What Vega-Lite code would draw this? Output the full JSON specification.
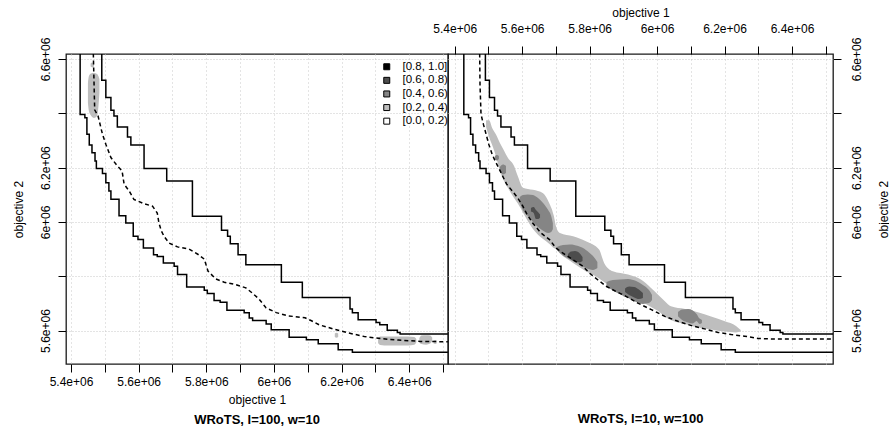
{
  "$schema": "https://vega.github.io/schema/vega-lite/v6.json",
  "padding": {"left": 11, "top": 5, "right": 0, "bottom": 0},
  "bounds": "flush",
  "datasets": {
    "best": [
      {"x": 5427000, "y": 6620000}, {"x": 5441000, "y": 6396000}, {"x": 5447000, "y": 6384000}, {"x": 5454000, "y": 6323000},
      {"x": 5462000, "y": 6283000}, {"x": 5471000, "y": 6255000}, {"x": 5475000, "y": 6224000}, {"x": 5493000, "y": 6197000},
      {"x": 5503000, "y": 6178000}, {"x": 5512000, "y": 6144000}, {"x": 5518000, "y": 6114000}, {"x": 5542000, "y": 6083000},
      {"x": 5562000, "y": 6023000}, {"x": 5584000, "y": 5996000}, {"x": 5598000, "y": 5947000}, {"x": 5614000, "y": 5935000},
      {"x": 5644000, "y": 5904000}, {"x": 5655000, "y": 5879000}, {"x": 5673000, "y": 5873000}, {"x": 5705000, "y": 5849000},
      {"x": 5715000, "y": 5837000}, {"x": 5742000, "y": 5806000}, {"x": 5794000, "y": 5760000}, {"x": 5803000, "y": 5748000},
      {"x": 5823000, "y": 5736000}, {"x": 5841000, "y": 5711000}, {"x": 5861000, "y": 5704000}, {"x": 5912000, "y": 5675000},
      {"x": 5927000, "y": 5665000}, {"x": 5937000, "y": 5646000}, {"x": 5977000, "y": 5637000}, {"x": 5992000, "y": 5624000},
      {"x": 6045000, "y": 5603000}, {"x": 6096000, "y": 5575000}, {"x": 6131000, "y": 5566000}, {"x": 6190000, "y": 5551000},
      {"x": 6232000, "y": 5529000}, {"x": 6600000, "y": 5520000}
    ],
    "worst": [
      {"x": 5491000, "y": 6620000}, {"x": 5503000, "y": 6522000}, {"x": 5518000, "y": 6458000}, {"x": 5527000, "y": 6411000},
      {"x": 5537000, "y": 6390000}, {"x": 5567000, "y": 6350000}, {"x": 5577000, "y": 6313000}, {"x": 5616000, "y": 6283000},
      {"x": 5683000, "y": 6197000}, {"x": 5759000, "y": 6151000}, {"x": 5845000, "y": 6021000}, {"x": 5863000, "y": 5969000},
      {"x": 5871000, "y": 5947000}, {"x": 5894000, "y": 5920000}, {"x": 5917000, "y": 5879000}, {"x": 6022000, "y": 5842000},
      {"x": 6084000, "y": 5778000}, {"x": 6225000, "y": 5722000}, {"x": 6232000, "y": 5679000}, {"x": 6249000, "y": 5665000},
      {"x": 6302000, "y": 5640000}, {"x": 6313000, "y": 5630000}, {"x": 6335000, "y": 5621000}, {"x": 6365000, "y": 5601000},
      {"x": 6373000, "y": 5593000}, {"x": 6600000, "y": 5587000}
    ],
    "medianL": [
      {"x": 5466000, "y": 6620000}, {"x": 5470000, "y": 6413000}, {"x": 5480000, "y": 6390000}, {"x": 5493000, "y": 6323000},
      {"x": 5503000, "y": 6286000}, {"x": 5518000, "y": 6237000}, {"x": 5537000, "y": 6206000}, {"x": 5551000, "y": 6188000},
      {"x": 5557000, "y": 6139000}, {"x": 5572000, "y": 6114000}, {"x": 5586000, "y": 6083000}, {"x": 5616000, "y": 6067000},
      {"x": 5641000, "y": 6058000}, {"x": 5655000, "y": 6033000}, {"x": 5660000, "y": 5996000}, {"x": 5667000, "y": 5967000},
      {"x": 5675000, "y": 5947000}, {"x": 5690000, "y": 5922000}, {"x": 5715000, "y": 5908000}, {"x": 5749000, "y": 5900000},
      {"x": 5776000, "y": 5880000}, {"x": 5794000, "y": 5863000}, {"x": 5805000, "y": 5819000}, {"x": 5828000, "y": 5790000},
      {"x": 5853000, "y": 5778000}, {"x": 5887000, "y": 5769000}, {"x": 5917000, "y": 5757000}, {"x": 5936000, "y": 5738000},
      {"x": 5956000, "y": 5716000}, {"x": 5977000, "y": 5683000}, {"x": 6007000, "y": 5666000}, {"x": 6042000, "y": 5654000},
      {"x": 6092000, "y": 5647000}, {"x": 6111000, "y": 5636000}, {"x": 6134000, "y": 5621000}, {"x": 6175000, "y": 5606000},
      {"x": 6220000, "y": 5591000}, {"x": 6267000, "y": 5578000}, {"x": 6317000, "y": 5570000}, {"x": 6368000, "y": 5565000},
      {"x": 6433000, "y": 5560000}, {"x": 6600000, "y": 5557000}
    ],
    "medianR": [
      {"x": 5474000, "y": 6620000}, {"x": 5475000, "y": 6507000}, {"x": 5478000, "y": 6396000}, {"x": 5485000, "y": 6360000},
      {"x": 5493000, "y": 6323000}, {"x": 5501000, "y": 6286000}, {"x": 5511000, "y": 6249000}, {"x": 5520000, "y": 6224000},
      {"x": 5530000, "y": 6200000}, {"x": 5542000, "y": 6169000}, {"x": 5554000, "y": 6139000}, {"x": 5572000, "y": 6112000},
      {"x": 5587000, "y": 6088000}, {"x": 5602000, "y": 6058000}, {"x": 5614000, "y": 6029000}, {"x": 5631000, "y": 5996000},
      {"x": 5656000, "y": 5959000}, {"x": 5681000, "y": 5935000}, {"x": 5700000, "y": 5904000}, {"x": 5720000, "y": 5886000},
      {"x": 5750000, "y": 5861000}, {"x": 5780000, "y": 5837000}, {"x": 5799000, "y": 5812000}, {"x": 5824000, "y": 5787000},
      {"x": 5849000, "y": 5763000}, {"x": 5878000, "y": 5744000}, {"x": 5908000, "y": 5726000}, {"x": 5943000, "y": 5701000},
      {"x": 5983000, "y": 5677000}, {"x": 6023000, "y": 5652000}, {"x": 6062000, "y": 5634000}, {"x": 6102000, "y": 5618000},
      {"x": 6141000, "y": 5606000}, {"x": 6181000, "y": 5593000}, {"x": 6220000, "y": 5585000}, {"x": 6260000, "y": 5579000},
      {"x": 6299000, "y": 5571000}, {"x": 6339000, "y": 5569000}, {"x": 6600000, "y": 5569000}
    ],
    "regionsL": [
      {"blob": "L1", "level": "[0.2, 0.4)", "x": 5450000, "y": 6512000, "y2": 6438000},
      {"blob": "L1", "level": "[0.2, 0.4)", "x": 5453000, "y": 6537000, "y2": 6408000},
      {"blob": "L1", "level": "[0.2, 0.4)", "x": 5459000, "y": 6547000, "y2": 6392000},
      {"blob": "L1", "level": "[0.2, 0.4)", "x": 5468000, "y": 6548000, "y2": 6383000},
      {"blob": "L1", "level": "[0.2, 0.4)", "x": 5477000, "y": 6545000, "y2": 6390000},
      {"blob": "L1", "level": "[0.2, 0.4)", "x": 5481000, "y": 6537000, "y2": 6423000},
      {"blob": "L1", "level": "[0.2, 0.4)", "x": 5484000, "y": 6526000, "y2": 6475000},
      {"blob": "L2", "level": "[0.2, 0.4)", "x": 5458000, "y": 6583000, "y2": 6572000},
      {"blob": "L2", "level": "[0.2, 0.4)", "x": 5463000, "y": 6587000, "y2": 6569000},
      {"blob": "L2", "level": "[0.2, 0.4)", "x": 5468000, "y": 6583000, "y2": 6572000},
      {"blob": "L3", "level": "[0.2, 0.4)", "x": 6180000, "y": 5589000, "y2": 5576000},
      {"blob": "L3", "level": "[0.2, 0.4)", "x": 6185000, "y": 5592000, "y2": 5573000},
      {"blob": "L3", "level": "[0.2, 0.4)", "x": 6190000, "y": 5589000, "y2": 5576000},
      {"blob": "L4", "level": "[0.2, 0.4)", "x": 6308000, "y": 5572000, "y2": 5554000},
      {"blob": "L4", "level": "[0.2, 0.4)", "x": 6314000, "y": 5578000, "y2": 5547000},
      {"blob": "L4", "level": "[0.2, 0.4)", "x": 6338000, "y": 5578000, "y2": 5545000},
      {"blob": "L4", "level": "[0.2, 0.4)", "x": 6367000, "y": 5578000, "y2": 5545000},
      {"blob": "L4", "level": "[0.2, 0.4)", "x": 6397000, "y": 5578000, "y2": 5545000},
      {"blob": "L4", "level": "[0.2, 0.4)", "x": 6415000, "y": 5576000, "y2": 5548000},
      {"blob": "L4", "level": "[0.2, 0.4)", "x": 6421000, "y": 5569000, "y2": 5556000},
      {"blob": "L5", "level": "[0.2, 0.4)", "x": 6430000, "y": 5572000, "y2": 5558000},
      {"blob": "L5", "level": "[0.2, 0.4)", "x": 6436000, "y": 5582000, "y2": 5550000},
      {"blob": "L5", "level": "[0.2, 0.4)", "x": 6450000, "y": 5583000, "y2": 5548000},
      {"blob": "L5", "level": "[0.2, 0.4)", "x": 6462000, "y": 5582000, "y2": 5552000},
      {"blob": "L5", "level": "[0.2, 0.4)", "x": 6468000, "y": 5574000, "y2": 5561000},
      {"blob": "L6", "level": "[0.2, 0.4)", "x": 6472000, "y": 5563000, "y2": 5552000},
      {"blob": "L6", "level": "[0.2, 0.4)", "x": 6477000, "y": 5565000, "y2": 5550000},
      {"blob": "L6", "level": "[0.2, 0.4)", "x": 6481000, "y": 5563000, "y2": 5552000}
    ],
    "regionsR": [
      {"blob": "R1", "level": "[0.2, 0.4)", "x": 5493000, "y": 6374000, "y2": 6350000},
      {"blob": "R1", "level": "[0.2, 0.4)", "x": 5502000, "y": 6374000, "y2": 6313000},
      {"blob": "R1", "level": "[0.2, 0.4)", "x": 5511000, "y": 6346000, "y2": 6283000},
      {"blob": "R1", "level": "[0.2, 0.4)", "x": 5522000, "y": 6323000, "y2": 6243000},
      {"blob": "R1", "level": "[0.2, 0.4)", "x": 5534000, "y": 6291000, "y2": 6188000},
      {"blob": "R1", "level": "[0.2, 0.4)", "x": 5546000, "y": 6263000, "y2": 6151000},
      {"blob": "R1", "level": "[0.2, 0.4)", "x": 5558000, "y": 6235000, "y2": 6125000},
      {"blob": "R1", "level": "[0.2, 0.4)", "x": 5576000, "y": 6206000, "y2": 6088000},
      {"blob": "R1", "level": "[0.2, 0.4)", "x": 5588000, "y": 6165000, "y2": 6066000},
      {"blob": "R1", "level": "[0.2, 0.4)", "x": 5602000, "y": 6126000, "y2": 6036000},
      {"blob": "R1", "level": "[0.2, 0.4)", "x": 5632000, "y": 6118000, "y2": 5974000},
      {"blob": "R1", "level": "[0.2, 0.4)", "x": 5662000, "y": 6106000, "y2": 5937000},
      {"blob": "R1", "level": "[0.2, 0.4)", "x": 5680000, "y": 6070000, "y2": 5920000},
      {"blob": "R1", "level": "[0.2, 0.4)", "x": 5694000, "y": 6022000, "y2": 5904000},
      {"blob": "R1", "level": "[0.2, 0.4)", "x": 5700000, "y": 5985000, "y2": 5900000},
      {"blob": "R1", "level": "[0.2, 0.4)", "x": 5712000, "y": 5959000, "y2": 5884000},
      {"blob": "R1", "level": "[0.2, 0.4)", "x": 5751000, "y": 5947000, "y2": 5849000},
      {"blob": "R1", "level": "[0.2, 0.4)", "x": 5789000, "y": 5929000, "y2": 5818000},
      {"blob": "R1", "level": "[0.2, 0.4)", "x": 5828000, "y": 5898000, "y2": 5792000},
      {"blob": "R1", "level": "[0.2, 0.4)", "x": 5843000, "y": 5849000, "y2": 5779000},
      {"blob": "R1", "level": "[0.2, 0.4)", "x": 5869000, "y": 5818000, "y2": 5758000},
      {"blob": "R1", "level": "[0.2, 0.4)", "x": 5914000, "y": 5806000, "y2": 5734000},
      {"blob": "R1", "level": "[0.2, 0.4)", "x": 5952000, "y": 5788000, "y2": 5709000},
      {"blob": "R1", "level": "[0.2, 0.4)", "x": 5982000, "y": 5757000, "y2": 5687000},
      {"blob": "R1", "level": "[0.2, 0.4)", "x": 6003000, "y": 5732000, "y2": 5672000},
      {"blob": "R1", "level": "[0.2, 0.4)", "x": 6023000, "y": 5708000, "y2": 5652000},
      {"blob": "R1", "level": "[0.2, 0.4)", "x": 6041000, "y": 5689000, "y2": 5639000},
      {"blob": "R1", "level": "[0.2, 0.4)", "x": 6083000, "y": 5679000, "y2": 5624000},
      {"blob": "R1", "level": "[0.2, 0.4)", "x": 6121000, "y": 5667000, "y2": 5611000},
      {"blob": "R1", "level": "[0.2, 0.4)", "x": 6160000, "y": 5652000, "y2": 5604000},
      {"blob": "R1", "level": "[0.2, 0.4)", "x": 6201000, "y": 5634000, "y2": 5596000},
      {"blob": "R1", "level": "[0.2, 0.4)", "x": 6234000, "y": 5617000, "y2": 5593000},
      {"blob": "R1", "level": "[0.2, 0.4)", "x": 6248000, "y": 5602000, "y2": 5596000},
      {"blob": "R2", "level": "[0.4, 0.6)", "x": 5519000, "y": 6243000, "y2": 6232000},
      {"blob": "R2", "level": "[0.4, 0.6)", "x": 5525000, "y": 6246000, "y2": 6226000},
      {"blob": "R2", "level": "[0.4, 0.6)", "x": 5531000, "y": 6243000, "y2": 6232000},
      {"blob": "R3", "level": "[0.4, 0.6)", "x": 5534000, "y": 6202000, "y2": 6188000},
      {"blob": "R3", "level": "[0.4, 0.6)", "x": 5543000, "y": 6211000, "y2": 6175000},
      {"blob": "R3", "level": "[0.4, 0.6)", "x": 5552000, "y": 6206000, "y2": 6180000},
      {"blob": "R4", "level": "[0.4, 0.6)", "x": 5593000, "y": 6092000, "y2": 6070000},
      {"blob": "R4", "level": "[0.4, 0.6)", "x": 5602000, "y": 6099000, "y2": 6044000},
      {"blob": "R4", "level": "[0.4, 0.6)", "x": 5617000, "y": 6101000, "y2": 6022000},
      {"blob": "R4", "level": "[0.4, 0.6)", "x": 5632000, "y": 6099000, "y2": 6000000},
      {"blob": "R4", "level": "[0.4, 0.6)", "x": 5647000, "y": 6088000, "y2": 5981000},
      {"blob": "R4", "level": "[0.4, 0.6)", "x": 5662000, "y": 6070000, "y2": 5967000},
      {"blob": "R4", "level": "[0.4, 0.6)", "x": 5677000, "y": 6044000, "y2": 5959000},
      {"blob": "R4", "level": "[0.4, 0.6)", "x": 5686000, "y": 6022000, "y2": 5963000},
      {"blob": "R4", "level": "[0.4, 0.6)", "x": 5691000, "y": 5996000, "y2": 5974000},
      {"blob": "R5", "level": "[0.4, 0.6)", "x": 5703000, "y": 5908000, "y2": 5897000},
      {"blob": "R5", "level": "[0.4, 0.6)", "x": 5721000, "y": 5915000, "y2": 5876000},
      {"blob": "R5", "level": "[0.4, 0.6)", "x": 5742000, "y": 5917000, "y2": 5862000},
      {"blob": "R5", "level": "[0.4, 0.6)", "x": 5766000, "y": 5911000, "y2": 5845000},
      {"blob": "R5", "level": "[0.4, 0.6)", "x": 5789000, "y": 5897000, "y2": 5830000},
      {"blob": "R5", "level": "[0.4, 0.6)", "x": 5810000, "y": 5874000, "y2": 5823000},
      {"blob": "R5", "level": "[0.4, 0.6)", "x": 5823000, "y": 5852000, "y2": 5830000},
      {"blob": "R6", "level": "[0.4, 0.6)", "x": 5850000, "y": 5779000, "y2": 5764000},
      {"blob": "R6", "level": "[0.4, 0.6)", "x": 5869000, "y": 5786000, "y2": 5747000},
      {"blob": "R6", "level": "[0.4, 0.6)", "x": 5890000, "y": 5788000, "y2": 5734000},
      {"blob": "R6", "level": "[0.4, 0.6)", "x": 5914000, "y": 5790000, "y2": 5720000},
      {"blob": "R6", "level": "[0.4, 0.6)", "x": 5938000, "y": 5782000, "y2": 5705000},
      {"blob": "R6", "level": "[0.4, 0.6)", "x": 5958000, "y": 5768000, "y2": 5698000},
      {"blob": "R6", "level": "[0.4, 0.6)", "x": 5976000, "y": 5749000, "y2": 5701000},
      {"blob": "R6", "level": "[0.4, 0.6)", "x": 5985000, "y": 5731000, "y2": 5712000},
      {"blob": "R7", "level": "[0.4, 0.6)", "x": 6062000, "y": 5668000, "y2": 5653000},
      {"blob": "R7", "level": "[0.4, 0.6)", "x": 6074000, "y": 5677000, "y2": 5639000},
      {"blob": "R7", "level": "[0.4, 0.6)", "x": 6092000, "y": 5679000, "y2": 5630000},
      {"blob": "R7", "level": "[0.4, 0.6)", "x": 6106000, "y": 5674000, "y2": 5626000},
      {"blob": "R7", "level": "[0.4, 0.6)", "x": 6117000, "y": 5661000, "y2": 5635000},
      {"blob": "R7", "level": "[0.4, 0.6)", "x": 6126000, "y": 5644000, "y2": 5624000},
      {"blob": "R7", "level": "[0.4, 0.6)", "x": 6133000, "y": 5639000, "y2": 5628000},
      {"blob": "R8", "level": "[0.6, 0.8)", "x": 5626000, "y": 6051000, "y2": 6038000},
      {"blob": "R8", "level": "[0.6, 0.8)", "x": 5634000, "y": 6055000, "y2": 6033000},
      {"blob": "R8", "level": "[0.6, 0.8)", "x": 5641000, "y": 6044000, "y2": 6011000},
      {"blob": "R8", "level": "[0.6, 0.8)", "x": 5648000, "y": 6035000, "y2": 6011000},
      {"blob": "R8", "level": "[0.6, 0.8)", "x": 5653000, "y": 6027000, "y2": 6016000},
      {"blob": "R9", "level": "[0.6, 0.8)", "x": 5736000, "y": 5882000, "y2": 5871000},
      {"blob": "R9", "level": "[0.6, 0.8)", "x": 5745000, "y": 5891000, "y2": 5862000},
      {"blob": "R9", "level": "[0.6, 0.8)", "x": 5757000, "y": 5893000, "y2": 5854000},
      {"blob": "R9", "level": "[0.6, 0.8)", "x": 5769000, "y": 5886000, "y2": 5851000},
      {"blob": "R9", "level": "[0.6, 0.8)", "x": 5779000, "y": 5871000, "y2": 5856000},
      {"blob": "R10", "level": "[0.6, 0.8)", "x": 5905000, "y": 5755000, "y2": 5742000},
      {"blob": "R10", "level": "[0.6, 0.8)", "x": 5917000, "y": 5762000, "y2": 5731000},
      {"blob": "R10", "level": "[0.6, 0.8)", "x": 5932000, "y": 5760000, "y2": 5722000},
      {"blob": "R10", "level": "[0.6, 0.8)", "x": 5946000, "y": 5751000, "y2": 5716000},
      {"blob": "R10", "level": "[0.6, 0.8)", "x": 5958000, "y": 5738000, "y2": 5720000}
    ]
  },
  "spacing": 0,
  "resolve": {"scale": {"fill": "independent"}, "legend": {"fill": "independent"}},
  "hconcat": [
    {
      "width": 382,
      "height": 310,
      "title": {"text": "WRoTS, l=100, w=10", "orient": "bottom", "offset": 9},
      "encoding": {
        "x": {"field": "x", "type": "quantitative",
          "scale": {"domain": [5385200, 6514700], "nice": false, "zero": false},
          "axis": {"orient": "bottom", "title": "objective 1",
            "values": [5400000, 5500000, 5600000, 5700000, 5800000, 5900000, 6000000, 6100000, 6200000, 6300000, 6400000, 6500000],
            "labelExpr": "round(datum.value / 100000) % 2 == 0 ? format(datum.value / 1000000, '.2~g') + 'e+06' : ''",
            "labelPadding": 4, "titlePadding": 7, "gridDash": [1, 3]}},
        "y": {"field": "y", "type": "quantitative",
          "scale": {"domain": [5476700, 6618400], "nice": false, "zero": false},
          "axis": {"orient": "left", "title": "objective 2",
            "values": [5600000, 5800000, 6000000, 6200000, 6400000, 6600000],
            "labelExpr": "(datum.value == 5800000 || datum.value == 6400000) ? '' : format(datum.value / 1000000, '.2~g') + 'e+06'",
            "labelAngle": -90, "labelAlign": "center", "labelBaseline": "bottom", "labelPadding": 6,
            "titleAngle": -90, "titlePadding": 14, "gridDash": [1, 2]}}
      },
      "layer": [
        {
          "data": {"name": "regionsL"},
          "mark": {"type": "area", "interpolate": "monotone", "clip": true},
          "encoding": {
            "y2": {"field": "y2"},
            "detail": {"field": "blob", "type": "nominal"},
            "fill": {"field": "level", "type": "nominal",
              "scale": {"domain": ["[0.8, 1.0]", "[0.6, 0.8)", "[0.4, 0.6)", "[0.2, 0.4)", "[0.0, 0.2)"],
                        "range": ["#000000", "#4d4d4d", "#858585", "#bebebe", "#ffffff"]},
              "legend": {"title": null, "orient": "none", "legendX": 315, "legendY": 7, "symbolType": "square",
                "symbolSize": 36, "symbolStrokeColor": "black", "symbolStrokeWidth": 1,
                "labelFontSize": 11.5, "labelColor": "black", "rowPadding": 0.6, "labelOffset": 10}}
          }
        },
        {"data": {"name": "best"}, "mark": {"type": "line", "interpolate": "step-before", "color": "#000000", "strokeWidth": 1.5, "clip": true}, "encoding": {}},
        {"data": {"name": "worst"}, "mark": {"type": "line", "interpolate": "step-before", "color": "#000000", "strokeWidth": 1.5, "clip": true}, "encoding": {}},
        {"data": {"name": "medianL"}, "mark": {"type": "line", "color": "#000000", "strokeWidth": 1.5, "strokeDash": [4, 3], "clip": true}, "encoding": {}}
      ]
    },
    {
      "width": 385,
      "height": 310,
      "title": {"text": "WRoTS, l=10, w=100", "orient": "bottom", "offset": 49},
      "encoding": {
        "x": {"field": "x", "type": "quantitative",
          "scale": {"domain": [5380100, 6521600], "nice": false, "zero": false},
          "axis": {"orient": "top", "title": "objective 1",
            "values": [5400000, 5500000, 5600000, 5700000, 5800000, 5900000, 6000000, 6100000, 6200000, 6300000, 6400000, 6500000],
            "labelExpr": "round(datum.value / 100000) % 2 == 0 ? format(datum.value / 1000000, '.2~g') + 'e+06' : ''",
            "labelPadding": 11, "titlePadding": 3, "gridDash": [1, 3]}},
        "y": {"field": "y", "type": "quantitative",
          "scale": {"domain": [5476700, 6618400], "nice": false, "zero": false},
          "axis": {"orient": "right", "title": "objective 2",
            "values": [5600000, 5800000, 6000000, 6200000, 6400000, 6600000],
            "labelExpr": "(datum.value == 5800000 || datum.value == 6400000) ? '' : format(datum.value / 1000000, '.2~g') + 'e+06'",
            "labelAngle": -90, "labelAlign": "center", "labelBaseline": "top", "labelPadding": 10,
            "titleAngle": -90, "titlePadding": 28, "gridDash": [1, 2]}}
      },
      "layer": [
        {
          "data": {"name": "regionsR"},
          "transform": [{"filter": "datum.level == '[0.2, 0.4)'"}],
          "mark": {"type": "area", "interpolate": "monotone", "clip": true},
          "encoding": {
            "y2": {"field": "y2"},
            "detail": {"field": "blob", "type": "nominal"},
            "fill": {"field": "level", "type": "nominal",
              "scale": {"domain": ["[0.8, 1.0]", "[0.6, 0.8)", "[0.4, 0.6)", "[0.2, 0.4)", "[0.0, 0.2)"],
                        "range": ["#000000", "#4d4d4d", "#858585", "#bebebe", "#ffffff"]},
              "legend": null}
          }
        },
        {
          "data": {"name": "regionsR"},
          "transform": [{"filter": "datum.level == '[0.4, 0.6)'"}],
          "mark": {"type": "area", "interpolate": "monotone", "clip": true},
          "encoding": {
            "y2": {"field": "y2"},
            "detail": {"field": "blob", "type": "nominal"},
            "fill": {"field": "level", "type": "nominal", "legend": null}
          }
        },
        {
          "data": {"name": "regionsR"},
          "transform": [{"filter": "datum.level == '[0.6, 0.8)'"}],
          "mark": {"type": "area", "interpolate": "monotone", "clip": true},
          "encoding": {
            "y2": {"field": "y2"},
            "detail": {"field": "blob", "type": "nominal"},
            "fill": {"field": "level", "type": "nominal", "legend": null}
          }
        },
        {"data": {"name": "best"}, "mark": {"type": "line", "interpolate": "step-before", "color": "#000000", "strokeWidth": 1.5, "clip": true}, "encoding": {}},
        {"data": {"name": "worst"}, "mark": {"type": "line", "interpolate": "step-before", "color": "#000000", "strokeWidth": 1.5, "clip": true}, "encoding": {}},
        {"data": {"name": "medianR"}, "mark": {"type": "line", "color": "#000000", "strokeWidth": 1.5, "strokeDash": [4, 3], "clip": true}, "encoding": {}}
      ]
    }
  ],
  "config": {
    "font": "Liberation Sans",
    "view": {"stroke": "#1a1a1a", "strokeWidth": 1.3},
    "axis": {"labelFont": "Liberation Sans", "labelFontSize": 12, "labelColor": "black",
      "titleFont": "Liberation Sans", "titleFontSize": 12, "titleFontWeight": "normal", "titleColor": "black",
      "tickColor": "black", "tickWidth": 1, "tickSize": 8, "domain": false, "grid": true,
      "gridColor": "#c8c8c8", "gridWidth": 1, "labelFlush": false, "labelOverlap": false},
    "legend": {"labelFont": "Liberation Sans"},
    "title": {"font": "Liberation Sans", "fontSize": 13, "fontWeight": "bold", "color": "black"}
  }
}
